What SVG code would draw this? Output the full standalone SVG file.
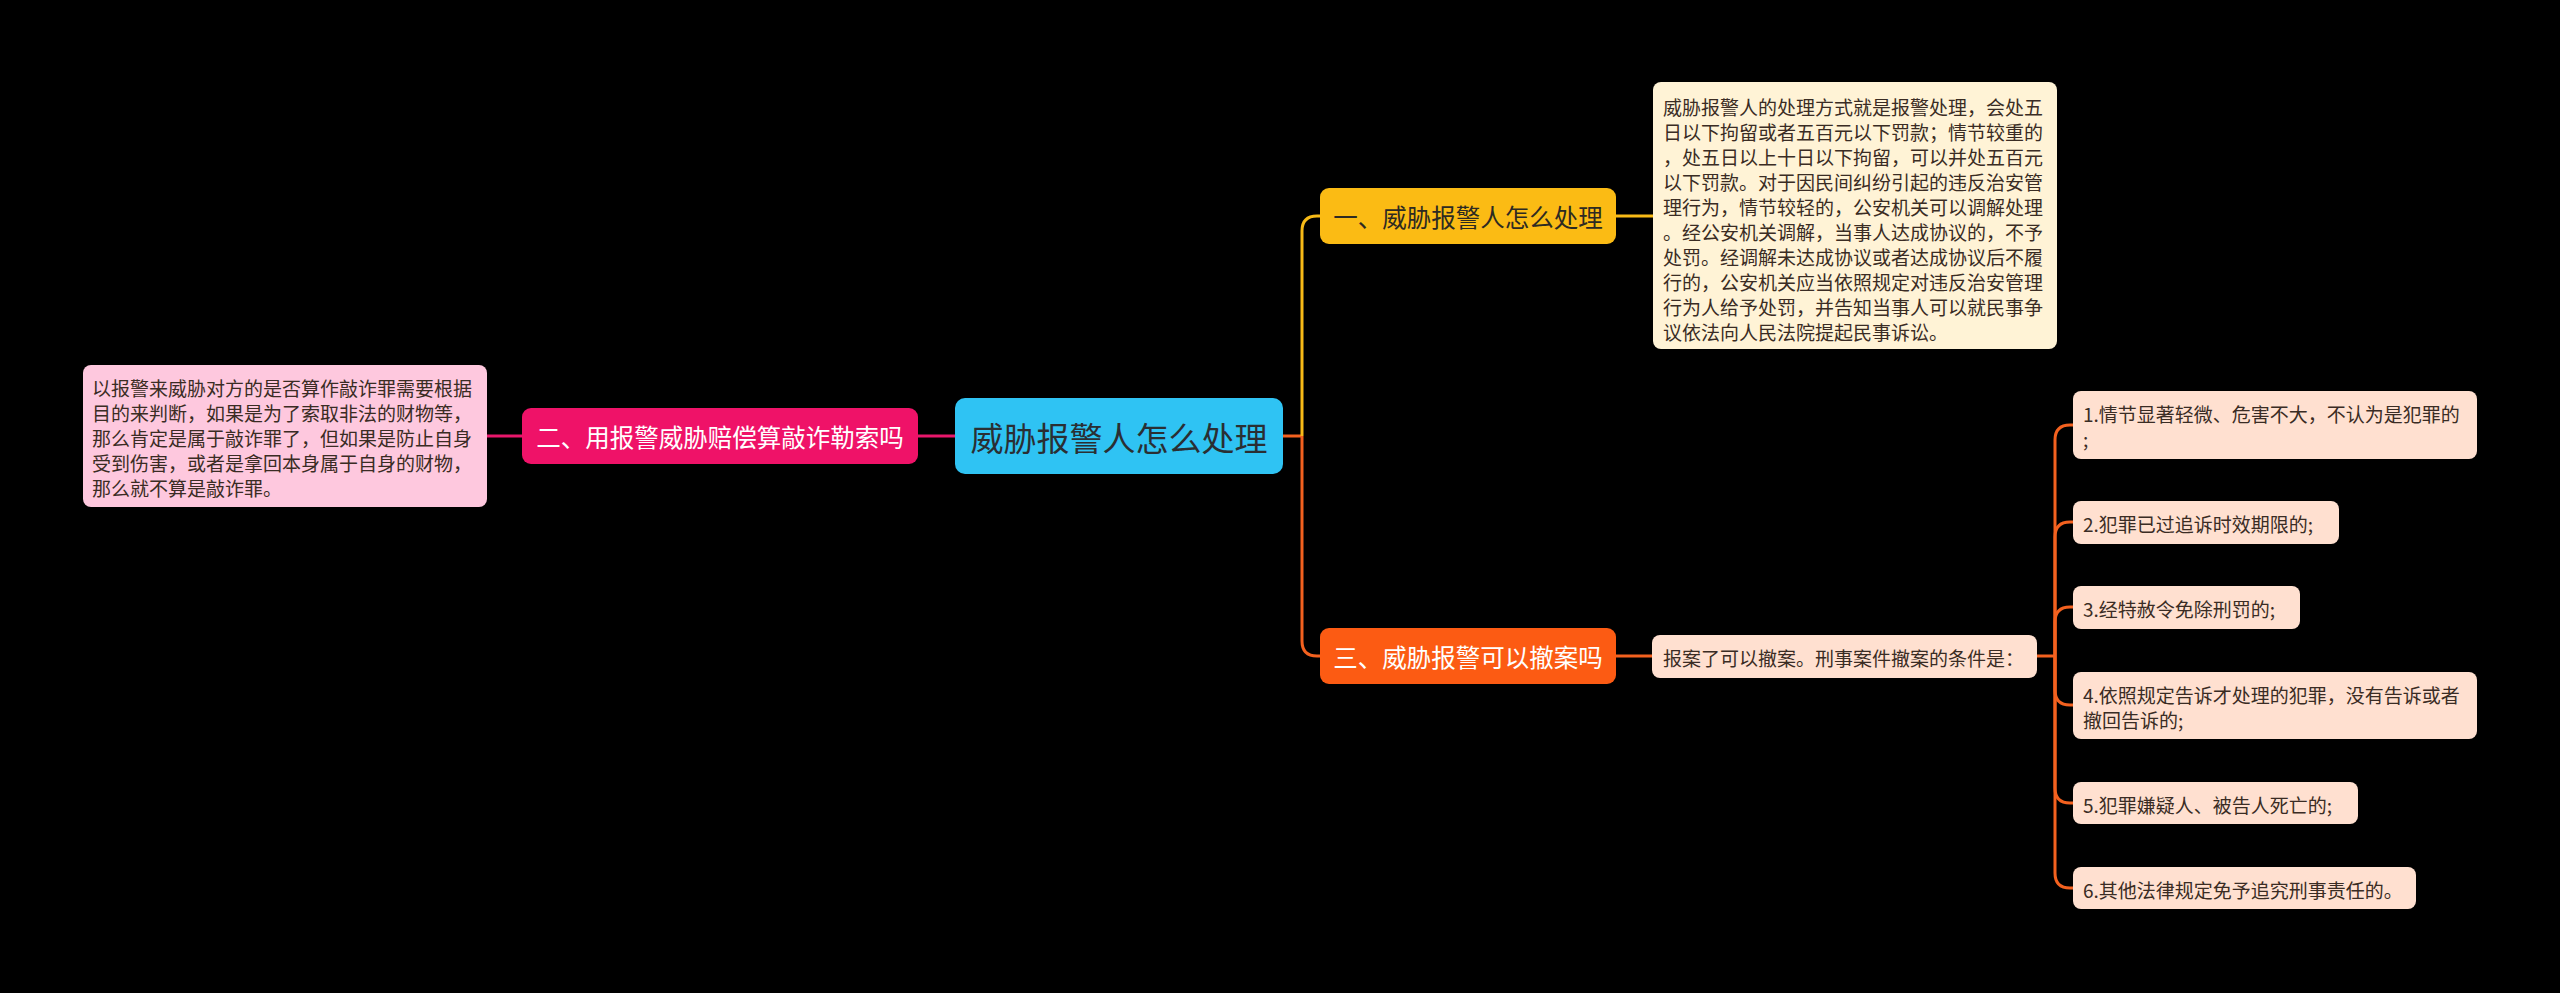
<svg xmlns="http://www.w3.org/2000/svg" width="2560" height="993" viewBox="0 0 2560 993">
<style>
text{font-family:"Noto Sans CJK SC","Noto Sans",sans-serif;dominant-baseline:central}
.c{fill:none;stroke-width:3}
.mag{stroke:#E8176B}
.yel{stroke:#F7BA17}
.org{stroke:#F3611F}
.t19{font-size:19px;fill:#3a2c24}
.br{font-size:24.5px;text-anchor:middle}
</style>
<rect width="2560" height="993" fill="#000"/>
<g id="connectors">
<path class="c mag" d="M955,436 H918"/>
<path class="c mag" d="M522,436 H487"/>
<path class="c org" d="M1283,436 H1302"/>
<path class="c yel" d="M1302,436 V231 Q1302,216 1317,216 H1320"/>
<path class="c org" d="M1302,436 V641 Q1302,656 1317,656 H1320"/>
<path class="c yel" d="M1616,216 H1653"/>
<path class="c org" d="M1616,656 H1652"/>
<path class="c org" d="M2037,656 H2055"/>
<path class="c org" d="M2055,656 V440 Q2055,425 2070,425 H2073"/>
<path class="c org" d="M2055,656 V537 Q2055,522 2070,522 H2073"/>
<path class="c org" d="M2055,656 V622 Q2055,607 2070,607 H2073"/>
<path class="c org" d="M2055,656 V690 Q2055,705 2070,705 H2073"/>
<path class="c org" d="M2055,656 V788 Q2055,803 2070,803 H2073"/>
<path class="c org" d="M2055,656 V873 Q2055,888 2070,888 H2073"/>
</g>
<g id="root">
<rect x="955" y="398" width="328" height="76" rx="10" fill="#2FC3F3"/>
<text x="1119" y="437" font-size="33" text-anchor="middle" fill="#2a2f33">威胁报警人怎么处理</text>
</g>
<g id="branch2">
<rect x="522" y="408" width="396" height="56" rx="9" fill="#EF1268"/>
<text class="br" x="720" y="436" fill="#fff">二、用报警威胁赔偿算敲诈勒索吗</text>
</g>
<g id="leaf2">
<rect x="83" y="365" width="404" height="142" rx="8" fill="#FEC8DE"/>
<text class="t19" x="92" y="387">以报警来威胁对方的是否算作敲诈罪需要根据</text>
<text class="t19" x="92" y="412">目的来判断，如果是为了索取非法的财物等，</text>
<text class="t19" x="92" y="437">那么肯定是属于敲诈罪了，但如果是防止自身</text>
<text class="t19" x="92" y="462">受到伤害，或者是拿回本身属于自身的财物，</text>
<text class="t19" x="92" y="487">那么就不算是敲诈罪。</text>
</g>
<g id="branch1">
<rect x="1320" y="188" width="296" height="56" rx="9" fill="#FBBB14"/>
<text class="br" x="1468" y="216" fill="#2d2a22">一、威胁报警人怎么处理</text>
</g>
<g id="leaf1">
<rect x="1653" y="82" width="404" height="267" rx="8" fill="#FFF3D6"/>
<text class="t19" x="1663" y="106">威胁报警人的处理方式就是报警处理，会处五</text>
<text class="t19" x="1663" y="131">日以下拘留或者五百元以下罚款；情节较重的</text>
<text class="t19" x="1663" y="156">，处五日以上十日以下拘留，可以并处五百元</text>
<text class="t19" x="1663" y="181">以下罚款。对于因民间纠纷引起的违反治安管</text>
<text class="t19" x="1663" y="206">理行为，情节较轻的，公安机关可以调解处理</text>
<text class="t19" x="1663" y="231">。经公安机关调解，当事人达成协议的，不予</text>
<text class="t19" x="1663" y="256">处罚。经调解未达成协议或者达成协议后不履</text>
<text class="t19" x="1663" y="281">行的，公安机关应当依照规定对违反治安管理</text>
<text class="t19" x="1663" y="306">行为人给予处罚，并告知当事人可以就民事争</text>
<text class="t19" x="1663" y="331">议依法向人民法院提起民事诉讼。</text>
</g>
<g id="branch3">
<rect x="1320" y="628" width="296" height="56" rx="9" fill="#FC5B13"/>
<text class="br" x="1468" y="656" fill="#fff">三、威胁报警可以撤案吗</text>
</g>
<g id="leaf3">
<rect x="1652" y="635" width="385" height="43" rx="8" fill="#FFE0D0"/>
<text class="t19" x="1663" y="657">报案了可以撤案。刑事案件撤案的条件是：</text>
</g>
<g id="sub1">
<rect x="2073" y="391" width="404" height="68" rx="8" fill="#FFE0D0"/>
<text class="t19" x="2083" y="413">1.情节显著轻微、危害不大，不认为是犯罪的</text>
<text class="t19" x="2083" y="438">;</text>
</g>
<g id="sub2">
<rect x="2073" y="501" width="266" height="43" rx="8" fill="#FFE0D0"/>
<text class="t19" x="2083" y="523">2.犯罪已过追诉时效期限的;</text>
</g>
<g id="sub3">
<rect x="2073" y="586" width="227" height="43" rx="8" fill="#FFE0D0"/>
<text class="t19" x="2083" y="608">3.经特赦令免除刑罚的;</text>
</g>
<g id="sub4">
<rect x="2073" y="672" width="404" height="67" rx="8" fill="#FFE0D0"/>
<text class="t19" x="2083" y="694">4.依照规定告诉才处理的犯罪，没有告诉或者</text>
<text class="t19" x="2083" y="719">撤回告诉的;</text>
</g>
<g id="sub5">
<rect x="2073" y="782" width="285" height="42" rx="8" fill="#FFE0D0"/>
<text class="t19" x="2083" y="804">5.犯罪嫌疑人、被告人死亡的;</text>
</g>
<g id="sub6">
<rect x="2073" y="867" width="343" height="42" rx="8" fill="#FFE0D0"/>
<text class="t19" x="2083" y="889">6.其他法律规定免予追究刑事责任的。</text>
</g>
</svg>
